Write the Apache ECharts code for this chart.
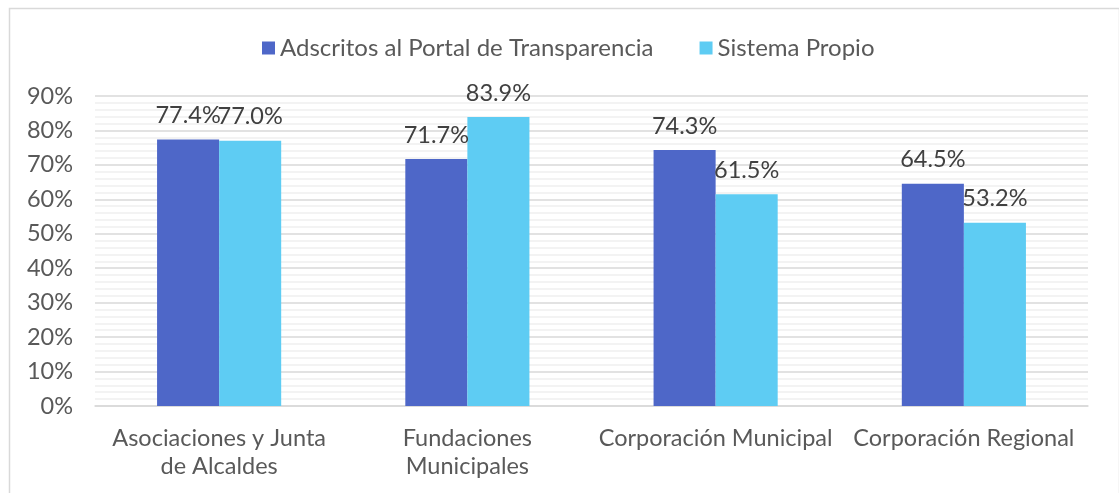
<!DOCTYPE html>
<html>
<head>
<meta charset="utf-8">
<script src="https://cdn.jsdelivr.net/npm/echarts@6/dist/echarts.min.js"></script>
<style>
html,body{margin:0;padding:0;background:#fff;}
#chart{width:1119px;height:493px;}
</style>
</head>
<body>
<div id="chart"></div>
<script>
const categories = ['Asociaciones y Junta\nde Alcaldes', 'Fundaciones\nMunicipales', 'Corporación Municipal', 'Corporación Regional'];
const seriesNames = ['Adscritos al Portal de Transparencia', 'Sistema Propio'];
const adscritos = [77.4, 71.7, 74.3, 64.5];
const sistemaPropio = [77.0, 83.9, 61.5, 53.2];
const yTicks = [0, 10, 20, 30, 40, 50, 60, 70, 80, 90];

const font = 'Lato';
const chart = echarts.init(document.getElementById('chart'));
const labelCfg = {
  show: true, position: 'top', distance: 12,
  fontFamily: font, fontSize: 23.5, color: '#404040',
  formatter: p => p.value.toFixed(1) + '%'
};
chart.setOption({
  animation: false,
  textStyle: { fontFamily: font },
  graphic: [{
    type: 'rect', left: 7, top: 6,
    shape: { width: 1110, height: 500 },
    style: { fill: 'none', stroke: '#D9D9D9', lineWidth: 1.5 },
    silent: true
  }],
  legend: {
    top: 31, left: 257,
    itemWidth: 13, itemHeight: 13, itemGap: 46,
    icon: 'rect',
    textStyle: { fontFamily: font, fontSize: 24, color: '#595959' },
    data: seriesNames
  },
  grid: { left: 95, right: 31, top: 96, bottom: 87 },
  xAxis: {
    type: 'category', data: categories,
    axisLine: { show: true, lineStyle: { color: '#D9D9D9', width: 1.5 } },
    axisTick: { show: false },
    axisLabel: { fontFamily: font, fontSize: 23.5, color: '#595959', lineHeight: 28, margin: 18, interval: 0 }
  },
  yAxis: {
    type: 'value', min: yTicks[0], max: yTicks[yTicks.length - 1], interval: 10,
    axisLine: { show: false }, axisTick: { show: false },
    axisLabel: { fontFamily: font, fontSize: 23.5, color: '#595959', margin: 22, formatter: v => v + '%' },
    splitLine: { lineStyle: { color: '#D9D9D9', width: 1.5 } },
    minorTick: { show: false, splitNumber: 5 },
    minorSplitLine: { show: true, lineStyle: { color: '#EFEFEF', width: 1.5 } }
  },
  series: [
    { name: seriesNames[0], type: 'bar', data: adscritos, barGap: '0%', barCategoryGap: '50%',
      itemStyle: { color: '#4E67C8' }, label: labelCfg },
    { name: seriesNames[1], type: 'bar', data: sistemaPropio,
      itemStyle: { color: '#5ECCF3' }, label: labelCfg }
  ]
});
</script>
</body>
</html>
